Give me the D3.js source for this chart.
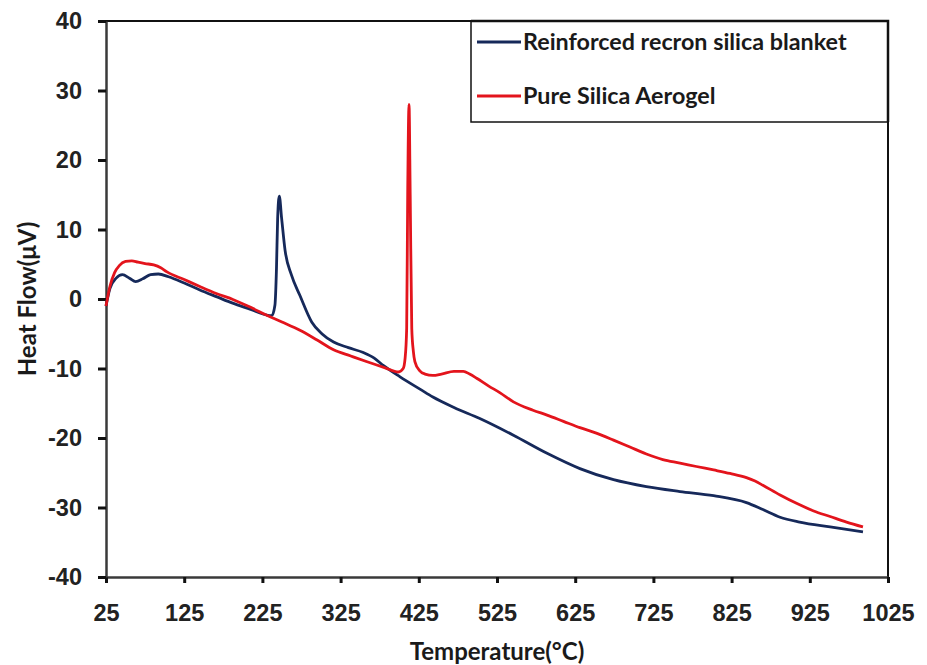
<!DOCTYPE html>
<html>
<head>
<meta charset="utf-8">
<script src="https://cdn.jsdelivr.net/npm/d3@7"></script>
<style>
  body { margin: 0; background: #fff; }
  svg { display: block; font-family: Lato, "Open Sans", sans-serif; }
  .tick text { font-weight: 700; fill: #222; }
</style>
</head>
<body>
<svg width="927" height="665"></svg>
<script>
// x ticks / y ticks
const xTicks = [25, 125, 225, 325, 425, 525, 625, 725, 825, 925, 1025];
const yTicks = [-40, -30, -20, -10, 0, 10, 20, 30, 40];

// Reinforced recron silica blanket
const blueTemp = [25, 30, 38, 46, 55, 63, 72, 82, 92, 105, 125, 145, 167, 187, 210, 230, 237, 241, 243, 244.5, 246.6,
    249.6, 254, 262, 273, 288, 301, 316, 335, 354, 368, 380, 401, 427, 443, 470, 503, 546, 589, 631, 674, 716,
    759, 802, 844, 865, 887, 912, 951, 993];
const blueFlow = [-1.0, 1.5, 3.0, 3.5, 3.0, 2.5, 2.9, 3.5, 3.6, 3.2, 2.3, 1.3, 0.3, -0.6, -1.5, -2.3, -2.4, -0.9, 4.4, 11.6, 14.8,
    11.6, 7.0, 3.5, 0.5, -3.3, -5.0, -6.2, -7.0, -7.7, -8.5, -9.6, -11.2, -13.0, -14.1, -15.6, -17.2, -19.6, -22.2, -24.4, -26.0, -27.0,
    -27.7, -28.3, -29.3, -30.3, -31.4, -32.1, -32.8, -33.5];

// Pure Silica Aerogel
const redTemp = [25, 30, 36, 42, 50, 58, 66, 75, 86, 95, 103, 125, 145, 166, 188, 210, 230, 250, 273, 295, 316, 338, 358,
    382, 399, 405, 407.5, 409.5, 410.8, 412.5, 414, 416, 418, 420, 426, 433, 443, 454, 470, 482, 490, 499, 514, 529,
    546, 571, 589, 610, 631, 652, 674, 695, 716, 737, 759, 780, 802, 823, 844, 855, 865, 887, 908, 930, 951, 972, 993];
const redFlow = [-1.0, 1.8, 3.8, 4.8, 5.4, 5.5, 5.3, 5.1, 4.9, 4.5, 3.9, 2.8, 1.8, 0.8, -0.1, -1.2, -2.3, -3.3, -4.5, -5.9, -7.3, -8.2, -9.0,
    -9.9, -10.5, -10.0, -8.5, -4.2, 15, 28, 15, -4.2, -7.5, -9.0, -10.3, -10.8, -11.0, -10.8, -10.4, -10.4, -10.8, -11.4, -12.5, -13.5,
    -14.8, -16.0, -16.7, -17.6, -18.5, -19.3, -20.3, -21.3, -22.3, -23.1, -23.6, -24.1, -24.6, -25.1, -25.7, -26.2, -26.8, -28.2, -29.4, -30.5, -31.3, -32.1, -32.8];

const seriesNames = ["Reinforced recron silica blanket", "Pure Silica Aerogel"];
const seriesColors = ["#16295a", "#e3141c"];

const svg = d3.select("svg");
const plotLeft = 106, plotRight = 888, plotTop = 21, plotBottom = 577;

const x = d3.scaleLinear().domain([25, 1025]).range([plotLeft, plotRight]);
const y = d3.scaleLinear().domain([-40, 40]).range([plotBottom, plotTop]);

// plot frame (top and right)
svg.append("path")
    .attr("d", `M${plotLeft},${plotTop}H${plotRight}V${plotBottom}`)
    .attr("fill", "none")
    .attr("stroke", "#111")
    .attr("stroke-width", 2);

// axes
const xAxis = svg.append("g")
    .attr("transform", `translate(0,${plotBottom})`)
    .call(d3.axisBottom(x).tickValues(xTicks).tickSizeInner(6).tickSizeOuter(0).tickPadding(21).tickFormat(d => String(d)));
const yAxis = svg.append("g")
    .attr("transform", `translate(${plotLeft},0)`)
    .call(d3.axisLeft(y).tickValues(yTicks).tickSizeInner(8).tickSizeOuter(0).tickPadding(16).tickFormat(d => String(d)));

[xAxis, yAxis].forEach(g => {
    g.select(".domain").attr("stroke", "#3a3a3a").attr("stroke-width", 2.5);
    g.selectAll(".tick line").attr("stroke", "#111").attr("stroke-width", 3);
    g.selectAll(".tick text").style("font-size", "23.5px");
});

// lines
const line = d3.line()
    .x(d => x(d[0]))
    .y(d => y(d[1]))
    .curve(d3.curveMonotoneX);

const series = [
    d3.zip(blueTemp, blueFlow),
    d3.zip(redTemp, redFlow)
];

svg.append("g")
    .selectAll("path")
    .data(series)
    .join("path")
    .attr("d", line)
    .attr("fill", "none")
    .attr("stroke", (d, i) => seriesColors[i])
    .attr("stroke-width", 2.8)
    .attr("stroke-linejoin", "round");

// legend
const lg = svg.append("g");
lg.append("rect")
    .attr("x", 471).attr("y", plotTop)
    .attr("width", plotRight - 471).attr("height", 101)
    .attr("fill", "#fff")
    .attr("stroke", "#111")
    .attr("stroke-width", 1.5);
seriesNames.forEach((name, i) => {
    const cy = 42 + i * 54;
    lg.append("line")
        .attr("x1", 477).attr("x2", 521)
        .attr("y1", cy).attr("y2", cy)
        .attr("stroke", seriesColors[i])
        .attr("stroke-width", 2.8);
    lg.append("text")
        .attr("x", 523).attr("y", cy + 8)
        .attr("font-size", 23.3)
        .attr("font-weight", 700)
        .attr("fill", "#1a1a1a")
        .text(name);
});
// redraw frame edges over the legend
svg.append("path")
    .attr("d", `M471,${plotTop}H${plotRight}V122`)
    .attr("fill", "none")
    .attr("stroke", "#111")
    .attr("stroke-width", 2.5);

// axis titles
svg.append("text")
    .attr("x", 497)
    .attr("y", 660)
    .attr("text-anchor", "middle")
    .attr("font-size", 24)
    .attr("font-weight", 700)
    .attr("fill", "#1a1a1a")
    .text("Temperature(°C)");

svg.append("text")
    .attr("transform", `translate(36,${(plotTop + plotBottom) / 2}) rotate(-90)`)
    .attr("text-anchor", "middle")
    .attr("font-size", 24)
    .attr("font-weight", 700)
    .attr("fill", "#1a1a1a")
    .text("Heat Flow(μV)");
</script>
</body>
</html>
